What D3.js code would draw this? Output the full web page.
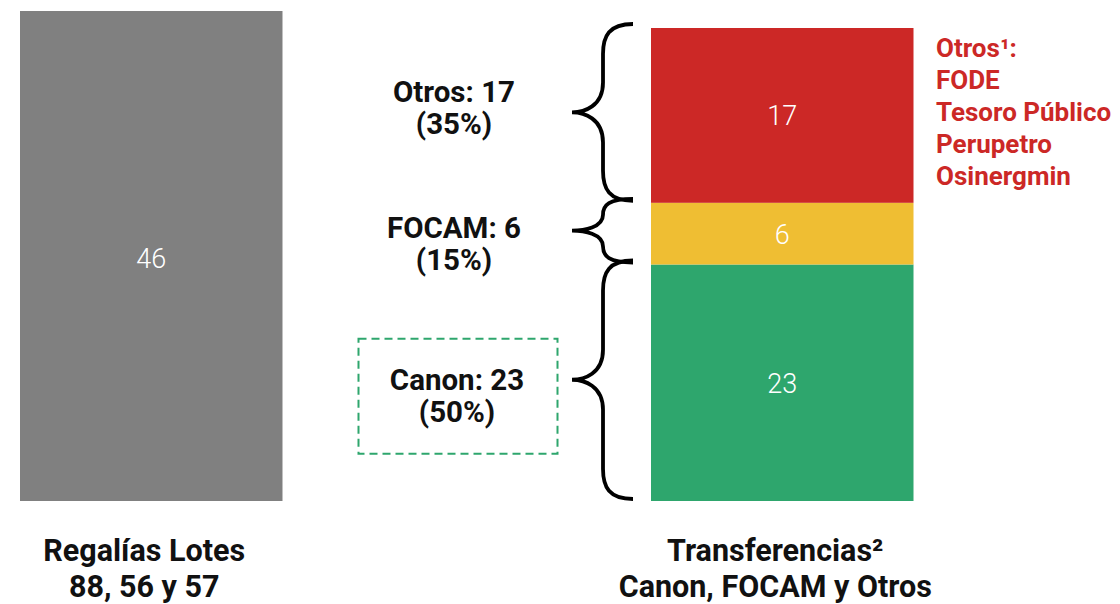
<!DOCTYPE html>
<html>
<head>
<meta charset="utf-8">
<script src="https://cdn.jsdelivr.net/npm/d3@7"></script>
<style>
  html, body { margin: 0; padding: 0; background: #fff; }
  svg { display: block; font-family: Roboto, "DejaVu Sans", sans-serif; }
</style>
</head>
<body>
<div id="chart"></div>
<script>
// ============================================================
// DATA

let bar_ids      = [ 'regalias', 'transferencias' ];
let bar_titles   = [ [ 'Regalías Lotes', '88, 56 y 57' ],
                     [ 'Transferencias²', 'Canon, FOCAM y Otros' ] ];
let regalias     = [ 46 ];
let trans_cats   = [ 'Canon', 'FOCAM', 'Otros' ];
let trans_values = [ 23, 6, 17 ];
let trans_pct    = [ 50, 15, 35 ];
let otros_list   = [ 'FODE', 'Tesoro Público', 'Perupetro', 'Osinergmin' ];

// ============================================================
// LAYOUT / STYLE

let width  = 1120;
let height = 604;
let bar_bottom = 501;
let colours = { Canon: '#2ea66d', FOCAM: '#efbe33', Otros: '#cc2826' };
let grey = '#808080';
let label_dy = { Canon: 7, FOCAM: 4, Otros: -13 };   // nudges for side labels

let svg = d3.select('#chart')
            .append('svg')
            .attr('width', width)
            .attr('height', height);

// scales
let x_scale = d3.scaleBand()
                .domain( bar_ids )
                .range( [ 20, 913.5 ] )
                .paddingInner( 0.584 );

let y_left = d3.scaleLinear()
               .domain( [ 0, d3.max( regalias ) ] )
               .range( [ bar_bottom, 11 ] );

let y_right = d3.scaleLinear()
                .domain( [ 0, d3.sum( trans_values ) ] )
                .range( [ bar_bottom, 28 ] );

// ------------------------------------------------------------
// left bar (regalias)
let xl = x_scale('regalias');
svg.selectAll('rect.reg')
   .data( regalias )
   .enter()
   .append('rect')
   .attr('class', 'reg')
   .attr('x', xl)
   .attr('y', d => y_left(d))
   .attr('width', x_scale.bandwidth())
   .attr('height', d => y_left(0) - y_left(d))
   .attr('fill', grey);

svg.selectAll('text.reg')
   .data( regalias )
   .enter()
   .append('text')
   .attr('class', 'reg')
   .attr('x', xl + x_scale.bandwidth() / 2)
   .attr('y', d => (y_left(d) + y_left(0)) / 2 + 12)
   .attr('text-anchor', 'middle')
   .attr('font-size', 27)
   .attr('font-weight', 300)
   .attr('fill', '#fff')
   .text(d => d);

// ------------------------------------------------------------
// right stacked bar (transferencias)
let row = {};
trans_cats.forEach((c, i) => row[c] = trans_values[i]);
let stack = d3.stack().keys( trans_cats )([ row ]);

let xr = x_scale('transferencias');
let segs = stack.map((s, i) => ({
    key: s.key,
    value: trans_values[i],
    pct: trans_pct[i],
    y0: y_right(s[0][1]),
    y1: y_right(s[0][0])
}));

svg.selectAll('rect.tr')
   .data( segs )
   .enter()
   .append('rect')
   .attr('class', 'tr')
   .attr('x', xr)
   .attr('y', d => d.y0)
   .attr('width', x_scale.bandwidth())
   .attr('height', d => d.y1 - d.y0)
   .attr('fill', d => colours[d.key]);

svg.selectAll('text.tr')
   .data( segs )
   .enter()
   .append('text')
   .attr('class', 'tr')
   .attr('x', xr + x_scale.bandwidth() / 2)
   .attr('y', d => (d.y0 + d.y1) / 2 + 10)
   .attr('text-anchor', 'middle')
   .attr('font-size', 27)
   .attr('font-weight', 300)
   .attr('fill', '#fff')
   .text(d => d.value);

// ------------------------------------------------------------
// braces
function bracePath(x_end, x_stem, x_tip, y0, y1) {
    let ym = (y0 + y1) / 2;
    let r = Math.min(30, (y1 - y0) / 4);
    return 'M' + x_end + ',' + y0 +
           ' C' + (x_stem + 6) + ',' + y0 + ' ' + x_stem + ',' + (y0 + r * 0.4) + ' ' + x_stem + ',' + (y0 + r) +
           ' L' + x_stem + ',' + (ym - r) +
           ' C' + x_stem + ',' + (ym - r * 0.2) + ' ' + (x_tip + 12) + ',' + ym + ' ' + x_tip + ',' + ym +
           ' C' + (x_tip + 12) + ',' + ym + ' ' + x_stem + ',' + (ym + r * 0.2) + ' ' + x_stem + ',' + (ym + r) +
           ' L' + x_stem + ',' + (y1 - r) +
           ' C' + x_stem + ',' + (y1 - r * 0.4) + ' ' + (x_stem + 6) + ',' + y1 + ' ' + x_end + ',' + y1;
}

let brace_end = xr - 18;
let brace_stem = xr - 48;
let brace_tip = xr - 79;

svg.selectAll('path.brace')
   .data( segs )
   .enter()
   .append('path')
   .attr('class', 'brace')
   .attr('d', d => bracePath(brace_end, brace_stem, brace_tip, d.y0 - 4, d.y1 - 2))
   .attr('fill', 'none')
   .attr('stroke', '#000')
   .attr('stroke-width', 3.8);

// side labels
let label_x = 454;
let labels = svg.selectAll('g.lab')
   .data( segs )
   .enter()
   .append('g')
   .attr('class', 'lab');

labels.append('text')
      .attr('x', d => label_x + (d.key === 'Canon' ? 3 : 0))
      .attr('y', d => (d.y0 + d.y1) / 2 + label_dy[d.key])
      .attr('text-anchor', 'middle')
      .attr('font-size', 29.5)
      .attr('font-weight', 700)
      .attr('fill', '#111')
      .text(d => d.key + ': ' + d.value);

labels.append('text')
      .attr('x', d => label_x + (d.key === 'Canon' ? 3 : 0))
      .attr('y', d => (d.y0 + d.y1) / 2 + label_dy[d.key] + 32)
      .attr('text-anchor', 'middle')
      .attr('font-size', 29.5)
      .attr('font-weight', 700)
      .attr('fill', '#111')
      .text(d => '(' + d.pct + '%)');

// dashed box around Canon label
let canon = segs.find(d => d.key === 'Canon');
let cmid = (canon.y0 + canon.y1) / 2 + label_dy.Canon;
svg.append('rect')
   .attr('x', 358.5)
   .attr('y', cmid - 51)
   .attr('width', 199)
   .attr('height', 115)
   .attr('fill', 'none')
   .attr('stroke', colours.Canon)
   .attr('stroke-width', 2)
   .attr('stroke-dasharray', '8,5');

// ------------------------------------------------------------
// "Otros" list on the right
let otros_lines = [ 'Otros¹:' ].concat( otros_list );
svg.selectAll('text.otros')
   .data( otros_lines )
   .enter()
   .append('text')
   .attr('class', 'otros')
   .attr('x', 936)
   .attr('y', (d, i) => 57 + i * 32)
   .attr('font-size', 26)
   .attr('font-weight', 700)
   .attr('fill', colours.Otros)
   .text(d => d);

// ------------------------------------------------------------
// bar titles
bar_ids.forEach((id, i) => {
    let cx = x_scale(id) + x_scale.bandwidth() / 2 - 7;
    svg.selectAll('text.title_' + id)
       .data( bar_titles[i] )
       .enter()
       .append('text')
       .attr('class', 'title_' + id)
       .attr('x', cx)
       .attr('y', (d, j) => 561 + j * 36)
       .attr('text-anchor', 'middle')
       .attr('font-size', 30.5)
       .attr('font-weight', 700)
       .attr('fill', '#111')
       .text(d => d);
});
</script>
</body>
</html>
